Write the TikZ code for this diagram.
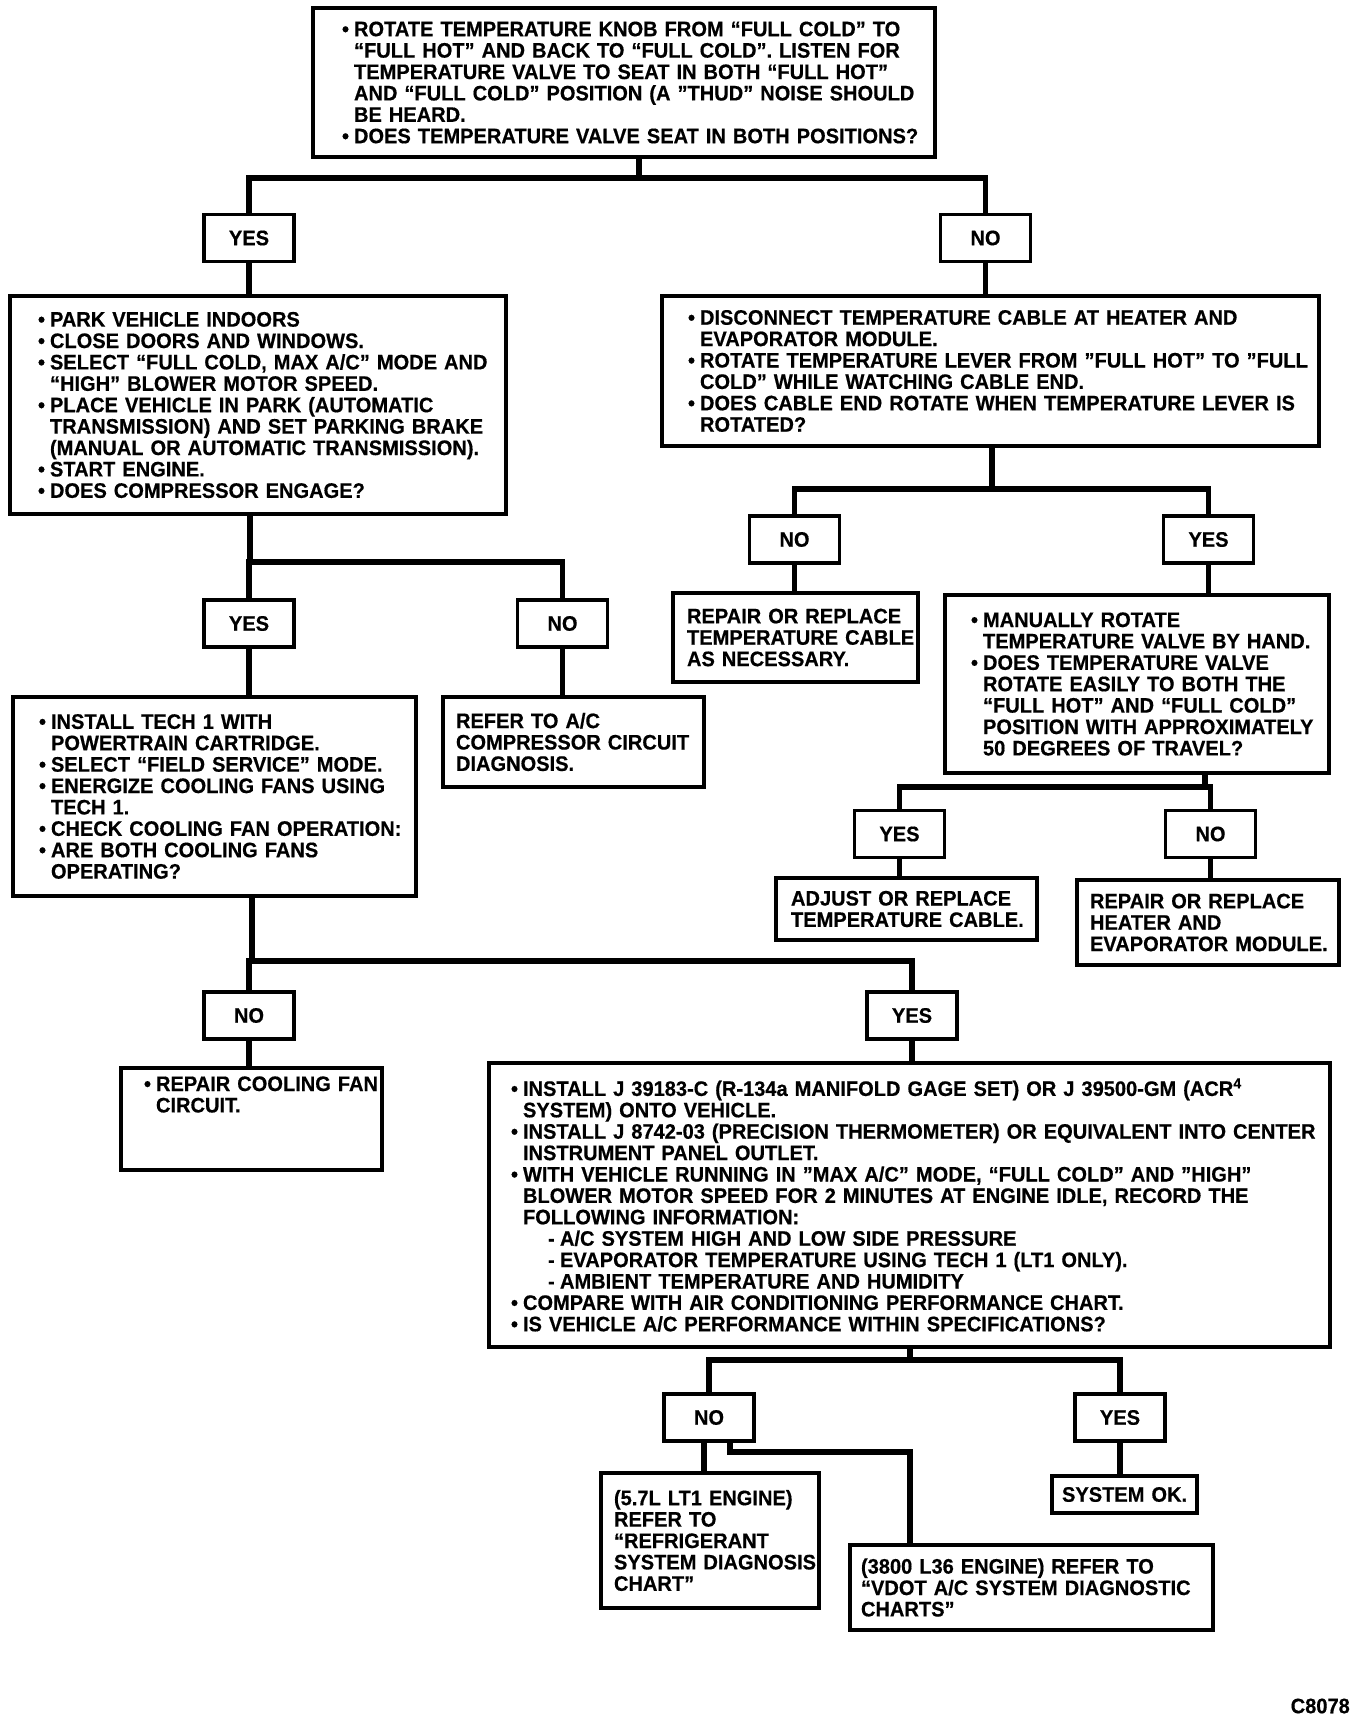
\documentclass[tikz,border=0pt]{standalone}
\usepackage{fontspec}
\setmainfont{Liberation Sans}[FakeStretch=0.955, BoldFeatures={FakeBold=0.5}]
\newcommand\ff{\fontsize{21}{21.4}\selectfont\bfseries}
\newlength\bind \setlength\bind{12pt}
\newcommand\bu[1]{\mbox{\makebox[\bind][l]{•}#1}}
\newcommand\co[1]{\mbox{\hspace*{\bind}#1}}
\newcommand\pl[1]{\mbox{#1}}
\newcommand\da[1]{\mbox{\hspace*{37pt}\makebox[12pt][l]{-}#1}}
\tikzset{
  box/.style={draw, line width=3.2pt, rectangle, inner sep=0pt, align=left, font=\ff},
  yn/.style={draw, line width=3.2pt, rectangle, minimum width=90pt, minimum height=47pt, inner sep=0pt, font=\ff},
  conn/.style={line width=5.5pt},
}
\begin{document}
\begin{tikzpicture}[x=1pt,y=-1pt]
\fill[white] (0,0) rectangle (1360,1718);
\useasboundingbox (0,0) rectangle (1360,1718);

% main boxes
\node[box, minimum width=622pt, minimum height=149pt, text width=564pt] (top) at (624,82.5) {%
\bu{ROTATE TEMPERATURE KNOB FROM “FULL COLD” TO}\\
\co{“FULL HOT” AND BACK TO “FULL COLD”. LISTEN FOR}\\
\co{TEMPERATURE VALVE TO SEAT IN BOTH “FULL HOT”}\\
\co{AND “FULL COLD” POSITION (A "THUD" NOISE SHOULD}\\
\co{BE HEARD.}\\
\bu{DOES TEMPERATURE VALVE SEAT IN BOTH POSITIONS?}};

\node[box, minimum width=496pt, minimum height=218pt, text width=440pt] (park) at (258,405) {%
\bu{PARK VEHICLE INDOORS}\\
\bu{CLOSE DOORS AND WINDOWS.}\\
\bu{SELECT “FULL COLD, MAX A/C” MODE AND}\\
\co{“HIGH” BLOWER MOTOR SPEED.}\\
\bu{PLACE VEHICLE IN PARK (AUTOMATIC}\\
\co{TRANSMISSION) AND SET PARKING BRAKE}\\
\co{(MANUAL OR AUTOMATIC TRANSMISSION).}\\
\bu{START ENGINE.}\\
\bu{DOES COMPRESSOR ENGAGE?}};

\node[box, minimum width=657pt, minimum height=150pt, text width=605pt] (dis) at (990.5,371) {%
\bu{DISCONNECT TEMPERATURE CABLE AT HEATER AND}\\
\co{EVAPORATOR MODULE.}\\
\bu{ROTATE TEMPERATURE LEVER FROM "FULL HOT" TO "FULL}\\
\co{COLD" WHILE WATCHING CABLE END.}\\
\bu{DOES CABLE END ROTATE WHEN TEMPERATURE LEVER IS}\\
\co{ROTATED?}};

\node[box, minimum width=245pt, minimum height=89pt, text width=217pt] (rcable) at (795.5,637.5) {%
\pl{REPAIR OR REPLACE}\\
\pl{TEMPERATURE CABLE}\\
\pl{AS NECESSARY.}};

\node[box, minimum width=384pt, minimum height=178pt, text width=332pt] (man) at (1137,684) {%
\bu{MANUALLY ROTATE}\\
\co{TEMPERATURE VALVE BY HAND.}\\
\bu{DOES TEMPERATURE VALVE}\\
\co{ROTATE EASILY TO BOTH THE}\\
\co{“FULL HOT” AND “FULL COLD”}\\
\co{POSITION WITH APPROXIMATELY}\\
\co{50 DEGREES OF TRAVEL?}};

\node[box, minimum width=261pt, minimum height=62pt, text width=231pt] (adj) at (906.5,909) {%
\pl{ADJUST OR REPLACE}\\
\pl{TEMPERATURE CABLE.}};

\node[box, minimum width=262pt, minimum height=85pt, text width=236pt] (heat) at (1208,922.5) {%
\pl{REPAIR OR REPLACE}\\
\pl{HEATER AND}\\
\pl{EVAPORATOR MODULE.}};

\node[box, minimum width=403pt, minimum height=199pt, text width=351pt] (tech) at (214.5,796.5) {%
\bu{INSTALL TECH 1 WITH}\\
\co{POWERTRAIN CARTRIDGE.}\\
\bu{SELECT “FIELD SERVICE" MODE.}\\
\bu{ENERGIZE COOLING FANS USING}\\
\co{TECH 1.}\\
\bu{CHECK COOLING FAN OPERATION:}\\
\bu{ARE BOTH COOLING FANS}\\
\co{OPERATING?}};

\node[box, minimum width=261pt, minimum height=90pt, text width=235pt] (refer) at (573.5,742) {%
\pl{REFER TO A/C}\\
\pl{COMPRESSOR CIRCUIT}\\
\pl{DIAGNOSIS.}};

\node[box, minimum width=261pt, minimum height=102pt, text width=215pt] (fan) at (251.5,1119) {%
\bu{REPAIR COOLING FAN}\\
\co{CIRCUIT.}\\
\strut\\
\strut};

\node[box, minimum width=841pt, minimum height=284pt, text width=797pt] (big) at (909.5,1205) {%
\bu{INSTALL J 39183-C (R-134a MANIFOLD GAGE SET) OR J 39500-GM (ACR\textsuperscript{4}}\\
\co{SYSTEM) ONTO VEHICLE.}\\
\bu{INSTALL J 8742-03 (PRECISION THERMOMETER) OR EQUIVALENT INTO CENTER}\\
\co{INSTRUMENT PANEL OUTLET.}\\
\bu{WITH VEHICLE RUNNING IN "MAX A/C" MODE, “FULL COLD” AND "HIGH"}\\
\co{BLOWER MOTOR SPEED FOR 2 MINUTES AT ENGINE IDLE, RECORD THE}\\
\co{FOLLOWING INFORMATION:}\\
\da{A/C SYSTEM HIGH AND LOW SIDE PRESSURE}\\
\da{EVAPORATOR TEMPERATURE USING TECH 1 (LT1 ONLY).}\\
\da{AMBIENT TEMPERATURE AND HUMIDITY}\\
\bu{COMPARE WITH AIR CONDITIONING PERFORMANCE CHART.}\\
\bu{IS VEHICLE A/C PERFORMANCE WITHIN SPECIFICATIONS?}};

\node[box, minimum width=218pt, minimum height=135pt, text width=192pt] (lt1) at (710,1540.5) {%
\pl{(5.7L LT1 ENGINE)}\\
\pl{REFER TO}\\
\pl{“REFRIGERANT}\\
\pl{SYSTEM DIAGNOSIS}\\
\pl{CHART”}};

\node[box, minimum width=363pt, minimum height=85pt, text width=341pt] (l36) at (1031.5,1587.5) {%
\pl{(3800 L36 ENGINE) REFER TO}\\
\pl{“VDOT A/C SYSTEM DIAGNOSTIC}\\
\pl{CHARTS”}};

\node[box, minimum width=145pt, minimum height=37pt, text width=125pt] (ok) at (1124.5,1494.5) {\pl{SYSTEM OK.}};

% yes / no boxes
\node[yn] (yes1) at (249,238) {YES};
\node[yn] (no1) at (985.5,238) {NO};
\node[yn] (no2) at (794.5,539.5) {NO};
\node[yn] (yes2) at (1208.5,539.5) {YES};
\node[yn] (yes3) at (899.5,834) {YES};
\node[yn] (no3) at (1210.5,834) {NO};
\node[yn] (yes4) at (249,623.5) {YES};
\node[yn] (no4) at (562.5,623.5) {NO};
\node[yn] (no5) at (249,1015.5) {NO};
\node[yn] (yes5) at (912,1015.5) {YES};
\node[yn] (no6) at (709,1417.5) {NO};
\node[yn] (yes6) at (1120,1417.5) {YES};

\node[font=\ff, anchor=east, inner sep=0pt] (code) at (1350,1706) {C8078};

% junctions
\coordinate (jt) at (639,178);
\coordinate (jd) at (992,489);
\coordinate (jm) at (1205,787);
\coordinate (jp) at (250,562);
\coordinate (jh) at (252,961);
\coordinate (jb) at (910,1360);
\coordinate (jn) at (730,1452);
\coordinate (jl) at (910,1452);

% connectors
\draw[conn] (top.south -| jt) -- (jt);
\draw[conn] (yes1.north) |- (jt) -| (no1.north);
\draw[conn] (yes1.south) -- (yes1.south |- park.north);
\draw[conn] (no1.south) -- (no1.south |- dis.north);

\draw[conn] (dis.south -| jd) -- (jd);
\draw[conn] (no2.north) |- (jd) -| (yes2.north);
\draw[conn] (no2.south) -- (no2.south |- rcable.north);
\draw[conn] (yes2.south) -- (yes2.south |- man.north);

\draw[conn] (man.south -| jm) -- (jm);
\draw[conn] (yes3.north) |- (jm) -| (no3.north);
\draw[conn] (yes3.south) -- (yes3.south |- adj.north);
\draw[conn] (no3.south) -- (no3.south |- heat.north);

\draw[conn] (park.south -| jp) -- (jp);
\draw[conn] (yes4.north) |- (jp) -| (no4.north);
\draw[conn] (yes4.south) -- (yes4.south |- tech.north);
\draw[conn] (no4.south) -- (no4.south |- refer.north);

\draw[conn] (tech.south -| jh) -- (jh);
\draw[conn] (no5.north) |- (jh) -| (yes5.north);
\draw[conn] (no5.south) -- (no5.south |- fan.north);
\draw[conn] (yes5.south) -- (yes5.south |- big.north);

\draw[conn] (big.south -| jb) -- (jb);
\draw[conn] (no6.north) |- (jb) -| (yes6.north);
\draw[conn] ([xshift=-5pt]no6.south) -- ([xshift=-5pt]no6.south |- lt1.north);
\draw[conn] (no6.south -| jn) -- (jn) -- (jl) -- (jl |- l36.north);
\draw[conn] (yes6.south) -- (yes6.south |- ok.north);
\end{tikzpicture}
\end{document}
